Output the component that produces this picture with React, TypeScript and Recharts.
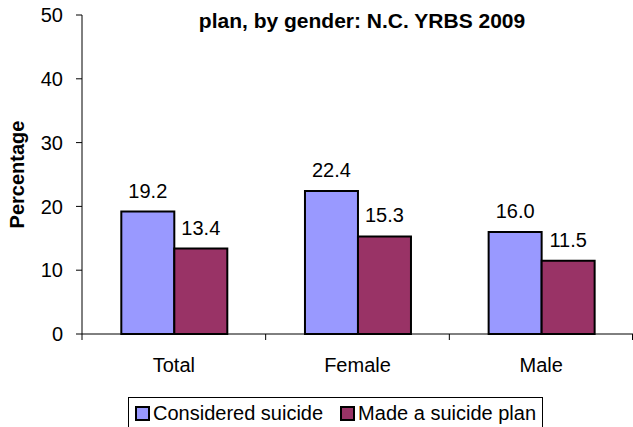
import React from 'react';
import { BarChart, Bar, XAxis, YAxis, Legend, LabelList } from 'recharts';

const categories = ['Total', 'Female', 'Male'];
const consideredSuicide = [19.2, 22.4, 16.0];
const madeSuicidePlan = [13.4, 15.3, 11.5];
const yTicks = [0, 10, 20, 30, 40, 50];
const seriesNames = ['Considered suicide', 'Made a suicide plan'];
const seriesColors = ['#9999FF', '#993366'];
const titleText = 'plan, by gender: N.C. YRBS 2009';
const yAxisTitle = 'Percentage';

const data = categories.map((c, i) => ({
  cat: c,
  considered: consideredSuicide[i],
  plan: madeSuicidePlan[i],
}));

const FONT = '"Liberation Sans", Arial, Helvetica, sans-serif';

const CatTick = (props: any) => {
  const { x, y, payload, index, visibleTicksCount, width } = props;
  const n = visibleTicksCount || categories.length;
  const half = width / n / 2;
  return (
    <g>
      <line x1={x - half} x2={x - half} y1={y - 6} y2={y} stroke="#000" strokeWidth={1} />
      {index === n - 1 && (
        <line x1={x + half - 0.5} x2={x + half - 0.5} y1={y - 6} y2={y} stroke="#000" strokeWidth={1} />
      )}
      <text x={x} y={y + 32} textAnchor="middle" fontSize={20} fill="#000" fontFamily={FONT}>
        {payload.value}
      </text>
    </g>
  );
};

const YTitle = (props: any) => {
  const vb = props.viewBox || { x: 0, y: 15, width: 82, height: 319 };
  const cx = vb.x + 17;
  const cy = vb.y + vb.height / 2;
  return (
    <text
      x={cx}
      y={cy}
      transform={`rotate(-90 ${cx} ${cy})`}
      textAnchor="middle"
      dominantBaseline="central"
      fontSize={20}
      fontWeight="bold"
      fill="#000"
      fontFamily={FONT}
    >
      {yAxisTitle}
    </text>
  );
};

const LegendBox = (props: any) => {
  const payload = props.payload && props.payload.length ? props.payload : seriesNames.map((n, i) => ({ value: n, color: seriesColors[i] }));
  return (
    <div
      style={{
        border: '1px solid #000',
        height: 32,
        width: 415,
        boxSizing: 'border-box',
        display: 'flex',
        alignItems: 'center',
        paddingLeft: 6,
        fontFamily: FONT,
        fontSize: 20,
        color: '#000',
        whiteSpace: 'nowrap',
        background: '#fff',
      }}
    >
      {payload.map((p: any, i: number) => (
        <span key={p.value} style={{ display: 'flex', alignItems: 'center', marginRight: i === 0 ? 17 : 0 }}>
          <span
            style={{
              display: 'inline-block',
              width: 15,
              height: 15,
              boxSizing: 'border-box',
              border: '2px solid #000',
              background: p.color,
              marginRight: 3,
            }}
          />
          {p.value}
        </span>
      ))}
    </div>
  );
};

export default function App() {
  return (
    <div style={{ position: 'absolute', left: 0, top: 0, width: 633, height: 427, overflow: 'hidden', background: '#fff' }}>
      <BarChart
        width={633}
        height={427}
        data={data}
        margin={{ top: 15, right: 0, bottom: 31, left: 0 }}
        barCategoryGap="21.4%"
        barGap={0}
      >
        <XAxis
          dataKey="cat"
          height={30}
          tickLine={false}
          tickSize={6}
          tickMargin={0}
          axisLine={{ stroke: '#000', strokeWidth: 1 }}
          tick={<CatTick />}
          interval={0}
        />
        <YAxis
          width={82}
          domain={[0, 50]}
          ticks={yTicks}
          interval={0}
          tickSize={6}
          tickMargin={13}
          axisLine={{ stroke: '#000', strokeWidth: 1 }}
          tickLine={{ stroke: '#000', strokeWidth: 1 }}
          tick={{ fill: '#000', fontSize: 20, fontFamily: FONT }}
          label={{ content: (p: any) => <YTitle {...p} /> }}
        />
        <Legend
          verticalAlign="bottom"
          content={<LegendBox />}
          wrapperStyle={{ left: 128, top: 397, bottom: 'auto', width: 415 }}
        />
        <Bar dataKey="considered" name={seriesNames[0]} fill={seriesColors[0]} stroke="#000" strokeWidth={2} isAnimationActive={false}>
          <LabelList dataKey="considered" position="top" offset={14} formatter={(v: any) => Number(v).toFixed(1)} fill="#000" fontSize={20} fontFamily={FONT} />
        </Bar>
        <Bar dataKey="plan" name={seriesNames[1]} fill={seriesColors[1]} stroke="#000" strokeWidth={2} isAnimationActive={false}>
          <LabelList dataKey="plan" position="top" offset={14} formatter={(v: any) => Number(v).toFixed(1)} fill="#000" fontSize={20} fontFamily={FONT} />
        </Bar>
      </BarChart>
      <div
        style={{
          position: 'absolute',
          left: 362,
          top: 10,
          transform: 'translateX(-50%)',
          fontFamily: FONT,
          fontWeight: 'bold',
          fontSize: 21,
          lineHeight: '21px',
          whiteSpace: 'nowrap',
          color: '#000',
        }}
      >
        {titleText}
      </div>
    </div>
  );
}
